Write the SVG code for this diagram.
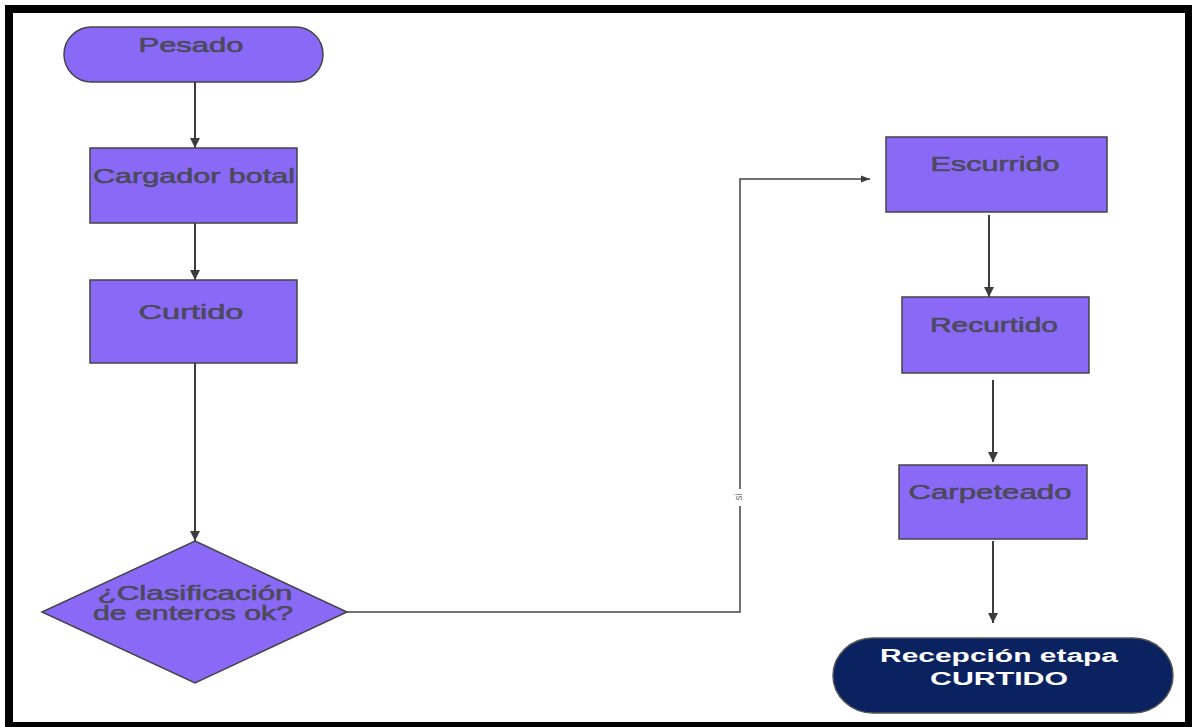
<svg xmlns="http://www.w3.org/2000/svg" width="1192" height="727" viewBox="0 0 1192 727">
<defs>
<style>
.n{fill:#8b69f7;stroke:#444448;stroke-width:1.5}
.t{font-family:"Liberation Sans",Arial,sans-serif;font-size:20px;fill:#4b4a5e;stroke:#4b4a5e;stroke-width:0.6;text-anchor:middle}
.w{font-family:"Liberation Sans",Arial,sans-serif;font-size:18px;font-weight:bold;fill:#ffffff;text-anchor:middle}
.c{fill:none;stroke:#3c3c3c;stroke-width:2}
.c2{fill:none;stroke:#444;stroke-width:1.5}
.lbl{font-family:"Liberation Sans",Arial,sans-serif;font-size:10px;fill:#777;text-anchor:middle}
</style>
<marker id="ah" viewBox="0 0 10 10" refX="10" refY="5" markerWidth="5.5" markerHeight="5" markerUnits="strokeWidth" orient="auto">
<path d="M0,0 L10,5 L0,10 z" fill="#3c3c3c"/>
</marker>
<marker id="ah2" viewBox="0 0 10 10" refX="10" refY="5" markerWidth="12" markerHeight="9" markerUnits="userSpaceOnUse" orient="auto">
<path d="M0,1 L10,5 L0,9 z" fill="#3c3c3c"/>
</marker>
</defs>
<rect x="0" y="0" width="1192" height="727" fill="#ffffff"/>
<rect x="9" y="9" width="1180" height="717" fill="#ffffff" stroke="#000000" stroke-width="8"/>

<g id="connectors">
<line class="c" x1="195" y1="82" x2="195" y2="148" marker-end="url(#ah)"/>
<line class="c" x1="195" y1="223" x2="195" y2="280" marker-end="url(#ah)"/>
<line class="c" x1="195" y1="363" x2="195" y2="541" marker-end="url(#ah)"/>
<polyline class="c2" points="347,612 740,612 740,179 870,179" marker-end="url(#ah2)"/>
<rect x="733" y="489" width="14" height="17" fill="#ffffff"/>
<text class="lbl" transform="translate(742,497) rotate(-90)">si</text>
<line class="c" x1="989" y1="215" x2="989" y2="297" marker-end="url(#ah)"/>
<line class="c" x1="993" y1="380" x2="993" y2="462" marker-end="url(#ah)"/>
<line class="c" x1="993" y1="541" x2="993" y2="623" marker-end="url(#ah)"/>
</g>

<g id="pesado">
<rect class="n" x="64" y="27" width="259" height="55" rx="27.5" ry="27.5"/>
<text class="t" x="191" y="52" textLength="105" lengthAdjust="spacingAndGlyphs">Pesado</text>
</g>
<g id="cargador">
<rect class="n" x="90" y="148" width="207" height="75"/>
<text class="t" x="194" y="183" textLength="202" lengthAdjust="spacingAndGlyphs">Cargador botal</text>
</g>
<g id="curtido">
<rect class="n" x="90" y="280" width="207" height="83"/>
<text class="t" x="191" y="319" textLength="105" lengthAdjust="spacingAndGlyphs">Curtido</text>
</g>
<g id="clasificacion">
<polygon class="n" points="195,541 347,612 195,683 42,612"/>
<text class="t" x="195" y="600" textLength="195" lengthAdjust="spacingAndGlyphs">¿Clasificación</text>
<text class="t" x="193" y="620" textLength="200" lengthAdjust="spacingAndGlyphs">de enteros ok?</text>
</g>
<g id="escurrido">
<rect class="n" x="886" y="137" width="221" height="75"/>
<text class="t" x="995" y="171" textLength="129" lengthAdjust="spacingAndGlyphs">Escurrido</text>
</g>
<g id="recurtido">
<rect class="n" x="902" y="297" width="187" height="76"/>
<text class="t" x="994" y="332" textLength="128" lengthAdjust="spacingAndGlyphs">Recurtido</text>
</g>
<g id="carpeteado">
<rect class="n" x="899" y="465" width="188" height="74"/>
<text class="t" x="990" y="499" textLength="163" lengthAdjust="spacingAndGlyphs">Carpeteado</text>
</g>
<g id="recepcion">
<rect x="833" y="638" width="340" height="75" rx="40" ry="37.5" fill="#0b2260" stroke="#555555" stroke-width="1.5"/>
<text class="w" x="999" y="662" textLength="238" lengthAdjust="spacingAndGlyphs">Recepción etapa</text>
<text class="w" x="999" y="685" textLength="138" lengthAdjust="spacingAndGlyphs">CURTIDO</text>
</g>
</svg>
